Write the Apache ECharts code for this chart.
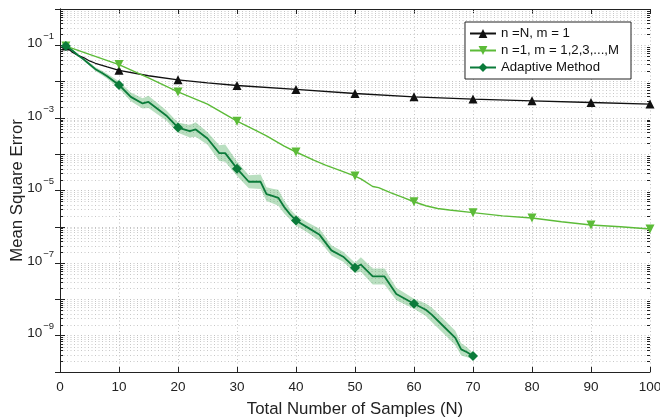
<!DOCTYPE html>
<html><head><meta charset="utf-8">
<script src="https://cdn.jsdelivr.net/npm/echarts@6.0.0/dist/echarts.min.js"></script>
<style>html,body{margin:0;padding:0;background:#fff}#c{width:660px;height:420px}</style>
</head><body><div id="c"></div><script>
// ---- data ----
const blackX   = [1,2,3,4,5,6,8,10,15,20,25,30,40,50,60,70,80,90,100];
const blackMSE = [9.5e-2,6.6e-2,5.3e-2,4.6e-2,3.7e-2,3.2e-2,2.55e-2,2.05e-2,1.45e-2,1.12e-2,9.2e-3,7.8e-3,6.1e-3,4.7e-3,3.8e-3,3.3e-3,2.95e-3,2.66e-3,2.4e-3];

const greenX   = [1,5,10,15,20,25,30,33,35,38,40,43,45,48,50,51,53,54,56,58,60,62,64,66,70,75,80,85,90,95,100];
const greenMSE = [9.5e-2,5.6e-2,2.95e-2,1.26e-2,5.2e-3,2.4e-3,8.1e-4,4.7e-4,3.2e-4,1.66e-4,1.15e-4,6.9e-5,5.0e-5,3.3e-5,2.5e-5,2.1e-5,1.29e-5,1.2e-5,8.7e-6,6.6e-6,4.9e-6,3.8e-6,3.2e-6,2.9e-6,2.45e-6,2.0e-6,1.74e-6,1.38e-6,1.12e-6,1.0e-6,8.7e-7];

const adaptX   = [1,2,3,4,5,6,7,8,10,12,14,15,18,20,22,23,25,27,28,30,32,34,35,36,37,38,39,40,42,44,46,48,50,51,53,55,57,60,62,63,65,67,68,69,70];
const adaptMSE = [9.5e-2,7.4e-2,5.4e-2,4.1e-2,3.0e-2,2.2e-2,1.78e-2,1.41e-2,8.1e-3,3.8e-3,2.5e-3,2.75e-3,1.17e-3,5.4e-4,4.3e-4,4.8e-4,2.7e-4,1.07e-4,1.07e-4,4.0e-5,1.74e-5,1.74e-5,7.9e-6,7.1e-6,6.3e-6,3.5e-6,2.2e-6,1.5e-6,9.5e-7,6.0e-7,2.24e-7,1.5e-7,7.4e-8,9.1e-8,4.3e-8,4.3e-8,1.41e-8,7.6e-9,5.2e-9,3.8e-9,1.82e-9,8.7e-10,4.2e-10,3.5e-10,2.75e-10];
// half-width of the shaded band, in decades
const adaptSpread = [0.01,0.02,0.03,0.04,0.04,0.05,0.06,0.07,0.1,0.12,0.14,0.17,0.14,0.14,0.17,0.2,0.17,0.22,0.24,0.2,0.18,0.2,0.19,0.2,0.22,0.18,0.14,0.14,0.14,0.17,0.14,0.14,0.14,0.2,0.22,0.22,0.17,0.14,0.17,0.2,0.2,0.2,0.17,0.14,0.08];

const markerX = [1,10,20,30,40,50,60,70,80,90,100];
const legendNames = ['n =N, m = 1','n =1, m = 1,2,3,...,M','Adaptive Method'];
const xTickInterval = 10;
const yMin = 1e-10, yMax = 1;
const minorMult = [2,3,4,5,6,7,8,9];
const decadeExps = [-10,-9,-8,-7,-6,-5,-4,-3,-2,-1];

// ---- build ----
const FONT = '"Liberation Sans", Arial, Helvetica, sans-serif';
const C_BLACK = '#111111', C_LIGHT = '#5cbb38', C_DARK = '#0b7b3a';
const pairs = (xs, ys) => xs.map((x, i) => [x, ys[i]]);
const markSize = s => (v => markerX.indexOf(v[0]) >= 0 ? s : 0);

const minorVals = [];
decadeExps.forEach(e => minorMult.forEach(m => minorVals.push([0, m * Math.pow(10, e)])));

const bandLow  = adaptMSE.map((v, i) => v / Math.pow(10, adaptSpread[i]));
const bandHigh = adaptMSE.map((v, i) => v * Math.pow(10, adaptSpread[i]));

const chart = echarts.init(document.getElementById('c'), null, {renderer: 'canvas'});

const axisLineStyle = {color: '#222', width: 1};
const gridDash = {color: '#c2c2c2', type: [1, 2.5], width: 1};
const option = {
  backgroundColor: '#fff',
  animation: false,
  textStyle: {fontFamily: FONT},
  grid: {left: 60, right: 10, top: 9, bottom: 48, containLabel: false, outerBoundsMode: 'none'},
  legend: {
    data: legendNames,
    orient: 'vertical',
    right: 29, top: 22,
    backgroundColor: '#fff',
    borderColor: '#222', borderWidth: 1,
    padding: [5, 12, 5, 4],
    itemGap: 4,
    itemWidth: 26, itemHeight: 11,
    textStyle: {fontSize: 13.2, color: '#111', fontFamily: FONT}
  },
  xAxis: [
    {
      type: 'value', min: 0, max: 100, interval: xTickInterval, position: 'bottom',
      axisLine: {show: true, lineStyle: axisLineStyle},
      axisTick: {show: true, inside: true, length: 5, lineStyle: axisLineStyle},
      axisLabel: {margin: 8, color: '#222', fontSize: 13.5, fontFamily: FONT},
      splitLine: {show: true, lineStyle: gridDash},
      name: 'Total Number of Samples (N)', nameLocation: 'middle', nameGap: 29, nameMoveOverlap: false,
      nameTextStyle: {fontSize: 16.8, color: '#222', fontFamily: FONT}
    },
    {
      type: 'value', min: 0, max: 100, interval: xTickInterval, position: 'top',
      axisLine: {show: true, lineStyle: axisLineStyle},
      axisTick: {show: true, inside: true, length: 5, lineStyle: axisLineStyle},
      axisLabel: {show: false}, splitLine: {show: false}
    }
  ],
  yAxis: [
    {
      type: 'log', logBase: 10, min: yMin, max: yMax, interval: 1, splitNumber: 10,
      axisLine: {show: true, lineStyle: axisLineStyle},
      axisTick: {show: true, inside: true, length: 5, lineStyle: axisLineStyle},
      axisLabel: {
        margin: 6, color: '#222', padding: [0, 0, 4, 0],
        formatter: v => {
          const e = Math.round(Math.log10(v));
          if (e % 2 === 0) return '';
          return '{a|10}{b|' + (e < 0 ? '\u2212' : '') + Math.abs(e) + '}';
        },
        rich: {
          a: {fontSize: 13.5, lineHeight: 14, verticalAlign: 'bottom', color: '#222', fontFamily: FONT},
          b: {fontSize: 9.5, lineHeight: 9, padding: [0, 0, 9, 1], verticalAlign: 'bottom', color: '#222', fontFamily: FONT}
        }
      },
      splitLine: {show: true, lineStyle: gridDash},
      name: 'Mean Square Error', nameLocation: 'middle', nameGap: 34, nameRotate: 90, nameMoveOverlap: false,
      nameTextStyle: {fontSize: 16.8, color: '#222', fontFamily: FONT}
    },
    {
      type: 'log', logBase: 10, min: yMin, max: yMax, interval: 1, splitNumber: 10, position: 'right',
      axisLine: {show: true, lineStyle: axisLineStyle},
      axisTick: {show: true, inside: true, length: 5, lineStyle: axisLineStyle},
      axisLabel: {show: false}, splitLine: {show: false}
    }
  ],
  series: [
    {
      name: 'minorGrid', type: 'custom', silent: true, z: 1,
      xAxisIndex: 0, yAxisIndex: 0,
      data: minorVals,
      encode: {x: 0, y: 1},
      renderItem: (params, api) => {
        const cs = params.coordSys;
        const y = Math.round(api.coord([0, api.value(1)])[1]) + 0.5;
        return {type: 'group', children: [
          {type: 'line', shape: {x1: cs.x, y1: y, x2: cs.x + cs.width, y2: y},
           style: {stroke: '#c8c8c8', lineWidth: 1, lineDash: [1, 2.5]}},
          {type: 'line', shape: {x1: cs.x, y1: y, x2: cs.x + 3, y2: y}, style: {stroke: '#222', lineWidth: 1}},
          {type: 'line', shape: {x1: cs.x + cs.width - 3, y1: y, x2: cs.x + cs.width, y2: y}, style: {stroke: '#222', lineWidth: 1}}
        ]};
      }
    },
    {
      name: 'band', type: 'custom', silent: true, z: 2,
      xAxisIndex: 0, yAxisIndex: 0,
      data: [[adaptX[0], adaptMSE[0]]],
      encode: {x: 0, y: 1},
      renderItem: (params, api) => {
        const pts = [];
        for (let i = 0; i < adaptX.length; i++) pts.push(api.coord([adaptX[i], bandHigh[i]]));
        for (let i = adaptX.length - 1; i >= 0; i--) pts.push(api.coord([adaptX[i], bandLow[i]]));
        return {type: 'polygon', shape: {points: pts}, style: {fill: 'rgba(70,170,90,0.38)', stroke: 'none'}};
      }
    },
    {
      name: legendNames[0], type: 'line', z: 3,
      data: pairs(blackX, blackMSE),
      color: C_BLACK,
      lineStyle: {color: C_BLACK, width: 1.3},
      itemStyle: {color: C_BLACK},
      symbol: 'triangle', symbolSize: markSize(9), showSymbol: true, showAllSymbol: true
    },
    {
      name: legendNames[1], type: 'line', z: 4,
      data: pairs(greenX, greenMSE),
      color: C_LIGHT,
      lineStyle: {color: C_LIGHT, width: 1.4},
      itemStyle: {color: C_LIGHT},
      symbol: 'path://M0,0 L10,0 L5,9 Z', symbolSize: markSize(9), showSymbol: true, showAllSymbol: true
    },
    {
      name: legendNames[2], type: 'line', z: 5,
      data: pairs(adaptX, adaptMSE),
      color: C_DARK,
      lineStyle: {color: C_DARK, width: 1.8},
      itemStyle: {color: C_DARK},
      symbol: 'diamond', symbolSize: markSize(10), showSymbol: true, showAllSymbol: true
    }
  ]
};
chart.setOption(option);
</script></body></html>
